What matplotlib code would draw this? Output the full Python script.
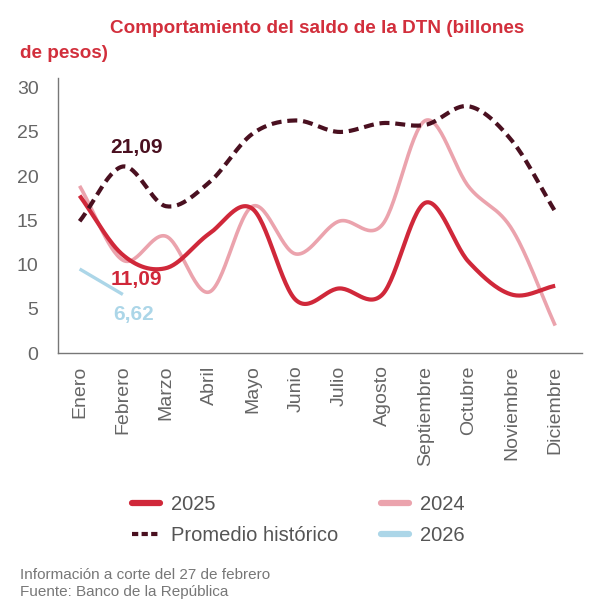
import numpy as np
import matplotlib
matplotlib.use("Agg")
import matplotlib.pyplot as plt
from matplotlib.lines import Line2D

meses = ["Enero", "Febrero", "Marzo", "Abril", "Mayo", "Junio", "Julio",
         "Agosto", "Septiembre", "Octubre", "Noviembre", "Diciembre"]
s2025 = [17.8, 11.09, 9.6, 13.5, 16.3, 6.0, 7.3, 6.6, 17.0, 10.3, 6.6, 7.6]
s2024 = [18.9, 10.5, 13.2, 6.9, 16.6, 11.2, 14.9, 14.5, 26.3, 18.8, 14.0, 3.1]
promedio = [14.9, 21.09, 16.6, 19.3, 24.8, 26.3, 25.0, 26.0, 25.8, 27.9, 24.0, 16.0]
s2026 = [9.5, 6.62]

rojo = "#d0283a"
rosa = "#eba3ad"
vino = "#4a1020"
azul = "#acd6e8"
gris = "#666666"

plt.rcParams['font.family'] = ['Liberation Sans', 'DejaVu Sans']


def suavizar(y, n=30):
    # catmull-rom, like the "smoothed line" option of spreadsheets
    y = np.asarray(y, dtype=float)
    x = np.arange(len(y), dtype=float)
    if len(y) < 3:
        return x, y
    px = np.concatenate([[2*x[0]-x[1]], x, [2*x[-1]-x[-2]]])
    py = np.concatenate([[2*y[0]-y[1]], y, [2*y[-1]-y[-2]]])
    xs, ys = [], []
    t = np.linspace(0, 1, n, endpoint=False)
    for i in range(1, len(px)-2):
        p0, p1, p2, p3 = py[i-1], py[i], py[i+1], py[i+2]
        q0, q1, q2, q3 = px[i-1], px[i], px[i+1], px[i+2]
        ys.append(0.5*((2*p1) + (-p0+p2)*t + (2*p0-5*p1+4*p2-p3)*t**2 + (-p0+3*p1-3*p2+p3)*t**3))
        xs.append(0.5*((2*q1) + (-q0+q2)*t + (2*q0-5*q1+4*q2-q3)*t**2 + (-q0+3*q1-3*q2+q3)*t**3))
    xs.append([x[-1]]); ys.append([y[-1]])
    return np.concatenate(xs), np.concatenate(ys)


fig = plt.figure(figsize=(5.98, 6.04), dpi=100)
ax = fig.add_axes([58/598, 1-353/604, 524/598, (353-78)/604])

x, y = suavizar(s2024)
ax.plot(x, y, color=rosa, lw=2.6, solid_capstyle='butt', zorder=2)
x, y = suavizar(s2025)
ax.plot(x, y, color=rojo, lw=3.0, solid_capstyle='butt', zorder=3)
x, y = suavizar(promedio)
ax.plot(x, y, color=vino, lw=3.0, dashes=(2.4, 1.4), dash_capstyle='butt', zorder=4)
ax.plot(np.arange(len(s2026)), s2026, color=azul, lw=2.4, solid_capstyle='butt', zorder=5)

ax.text(0.72, 23.2, "21,09", color=vino, fontsize=15, fontweight='bold',
        ha='left', va='center')
ax.text(0.72, 8.3, "11,09", color=rojo, fontsize=15, fontweight='bold',
        ha='left', va='center')
ax.text(0.78, 4.4, "6,62", color=azul, fontsize=15, fontweight='bold',
        ha='left', va='center')

ax.set_xlim(-0.5, 11.62)
ax.set_ylim(0, 31.1)
ax.set_yticks([0, 5, 10, 15, 20, 25, 30])
ax.set_xticks(range(12))
ax.set_xticklabels(meses, rotation=90, va='top', ha='center')
ax.tick_params(length=0, labelsize=14, colors=gris, pad=9)
ax.tick_params(axis='y', pad=14)
for lado in ['top', 'right']:
    ax.spines[lado].set_visible(False)
for lado in ['left', 'bottom']:
    ax.spines[lado].set_color("#777777")
    ax.spines[lado].set_linewidth(1.0)

fig.text(110/598, 1-33/604, "Comportamiento del saldo de la DTN (billones", color="#d22f3c",
         fontsize=13.6, fontweight='bold', ha='left', va='baseline')
fig.text(20/598, 1-58/604, "de pesos)", color="#d22f3c",
         fontsize=13.6, fontweight='bold', ha='left', va='baseline')

manijas = [
    Line2D([], [], color=rojo, lw=4.5, solid_capstyle='round'),
    Line2D([], [], color=vino, lw=3.0, dashes=(1.5, 0.8), dash_capstyle='butt'),
    Line2D([], [], color=rosa, lw=4.5, solid_capstyle='round'),
    Line2D([], [], color=azul, lw=4.5, solid_capstyle='round'),
]
fig.legend(manijas, ["2025", "Promedio histórico", "2024", "2026"], ncol=2,
           loc='upper left', bbox_to_anchor=(132/598, 1-495/604), frameon=False,
           fontsize=14.5, labelcolor="#555555", handlelength=1.4, handletextpad=0.55,
           columnspacing=2.1, labelspacing=0.6, borderpad=0, borderaxespad=0)

fig.text(20/598, 1-575/604, "Información a corte del 27 de febrero", color="#777777",
         fontsize=11, ha='left', va='center')
fig.text(20/598, 1-592/604, "Fuente: Banco de la República", color="#777777",
         fontsize=11, ha='left', va='center')

fig.savefig("out.png", dpi=100)
